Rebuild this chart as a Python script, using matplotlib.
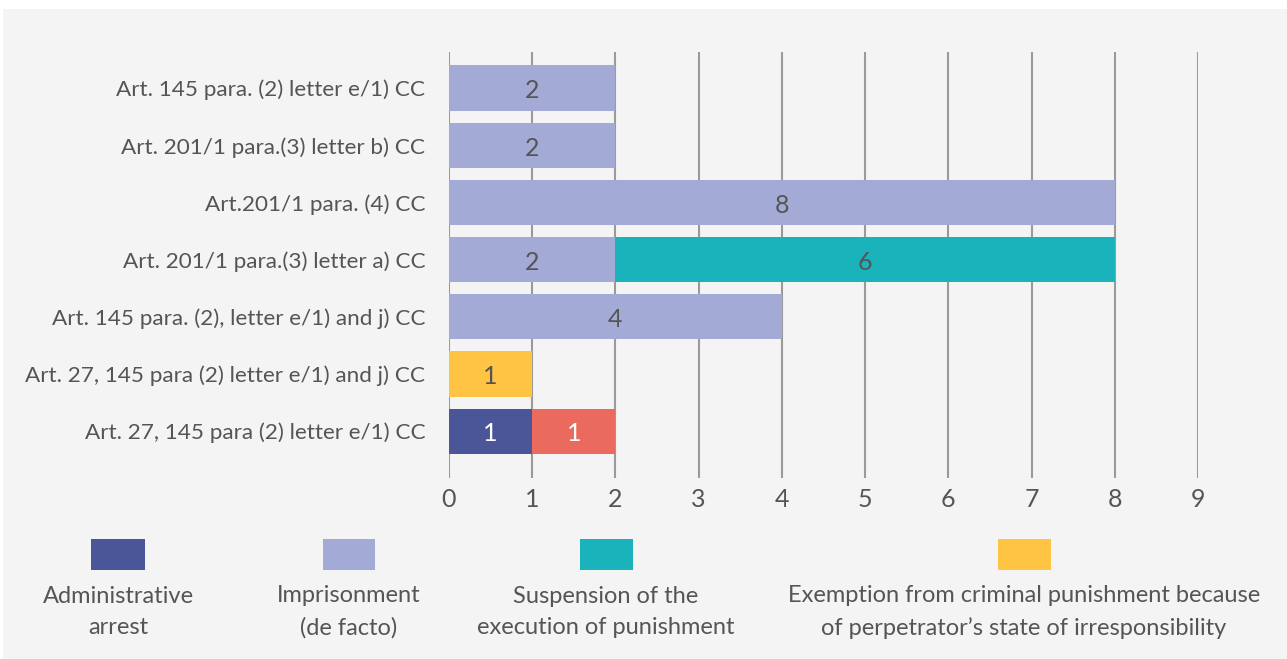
import matplotlib
matplotlib.use("Agg")
import matplotlib.pyplot as plt
from matplotlib.patches import Rectangle
import numpy as np

categories = [
    "Art. 27, 145 para (2) letter e/1) CC",
    "Art. 27, 145 para (2) letter e/1) and j) CC",
    "Art. 145 para. (2), letter e/1) and j) CC",
    "Art. 201/1 para.(3) letter a) CC",
    "Art.201/1 para. (4) CC",
    "Art. 201/1 para.(3) letter b) CC",
    "Art. 145 para. (2) letter e/1) CC",
]
admin_arrest = [1, 0, 0, 0, 0, 0, 0]
other = [1, 0, 0, 0, 0, 0, 0]
imprisonment = [0, 0, 4, 2, 8, 2, 2]
suspension = [0, 0, 0, 6, 0, 0, 0]
exemption = [0, 1, 0, 0, 0, 0, 0]
x_ticks = list(range(10))

legend_names = [
    "Administrative\narrest",
    "Imprisonment\n(de facto)",
    "Suspension of the\nexecution of punishment",
    "Exemption from criminal punishment because\nof perpetrator\u2019s state of irresponsibility",
]

plt.rcParams['font.family'] = ['Lato', 'DejaVu Sans']
W, H = 1287, 659
fig = plt.figure(figsize=(W / 100, H / 100), dpi=100)
fig.patch.set_facecolor("white")
bg = Rectangle((3 / W, 0), 1 - 3 / W, 1 - 9 / H, transform=fig.transFigure,
               facecolor="#f4f4f4", edgecolor="none", zorder=-5)
fig.add_artist(bg)

ax = fig.add_axes([449 / W, 1 - 478 / H, (1198 - 449) / W, (478 - 52) / H])
ax.set_facecolor("none")
ax.set_zorder(2)
y = np.arange(len(categories))
left = np.zeros(len(categories))
# stacking order: admin, red (other), imprisonment, suspension, exemption
stack = [
    (admin_arrest, "#4b5699", "white"),
    (other, "#ea6a5d", "white"),
    (imprisonment, "#a3aad6", "#555555"),
    (suspension, "#1bb3bb", "#555555"),
    (exemption, "#ffc443", "#555555"),
]
for vals, col, tcol in stack:
    vals = np.array(vals, dtype=float)
    ax.barh(y, vals, left=left, height=0.79, color=col, zorder=3)
    for yi, (l, v) in enumerate(zip(left, vals)):
        if v > 0:
            ax.text(l + v / 2, yi - 0.05, f"{int(v)}", ha="center", va="center",
                    fontsize=18, color=tcol, zorder=4)
    left += vals

ax.set_xlim(0, 9)
ax.set_ylim(-0.82, 6.63)
ax.set_xticks(x_ticks)
ax.set_xticklabels([str(t) for t in x_ticks], fontsize=18, color="#555555")
ax.set_yticks(y)
ax.set_yticklabels(categories, fontsize=16.2, color="#555555")
ax.tick_params(length=0)
ax.tick_params(axis="x", pad=7)
ax.tick_params(axis="y", pad=17)
ax.grid(axis="x", color="#9a9a9a", linewidth=1.5, zorder=1)
ax.grid(axis="y", visible=False)
ax.set_axisbelow(True)
for s in ax.spines.values():
    s.set_visible(False)

# legend (manual)
legend_colors = ["#4b5699", "#a3aad6", "#1bb3bb", "#ffc443"]
centers = [118, 349, 606, 1024]
for name, col, cx in zip(legend_names, legend_colors, centers):
    fig.add_artist(Rectangle(((cx - 26.5) / W, 1 - 570 / H), 53 / W, 31 / H,
                             transform=fig.transFigure, facecolor=col, edgecolor="none", zorder=2))
    fig.text(cx / W, 1 - 612 / H, name, ha="center", va="center", fontsize=17,
             color="#555555", linespacing=1.6)

fig.savefig("out.png", dpi=100)
